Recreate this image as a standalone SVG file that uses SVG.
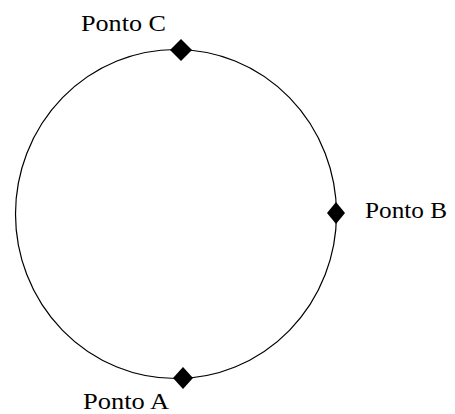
<svg xmlns="http://www.w3.org/2000/svg" width="455" height="414" viewBox="0 0 455 414">
<style>
.lbl{font-family:"Liberation Serif","Times New Roman",serif;font-size:24px;fill:#000}
.pt{fill:#000}
</style>
<rect width="455" height="414" fill="#fff"/>
<g id="connectors">
<ellipse cx="176" cy="214" rx="160.5" ry="164.5" fill="none" stroke="#000" stroke-width="1.2"/>
</g>
<g id="pontoC">
<polygon class="pt" points="181,39 192,50 181,61 170,50"/>
<text class="lbl" x="81" y="31" textLength="85" lengthAdjust="spacingAndGlyphs">Ponto C</text>
</g>
<g id="pontoB">
<polygon class="pt" points="336,202 345,213 336,224 327,213"/>
<text class="lbl" x="365" y="218" textLength="82" lengthAdjust="spacingAndGlyphs">Ponto B</text>
</g>
<g id="pontoA">
<polygon class="pt" points="183,367 193,378 183,389 173,378"/>
<text class="lbl" x="83" y="409" textLength="86" lengthAdjust="spacingAndGlyphs">Ponto A</text>
</g>
</svg>
